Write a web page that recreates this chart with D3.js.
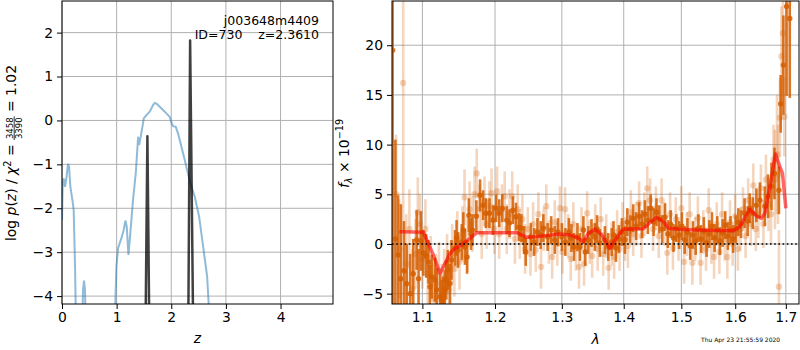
<!DOCTYPE html>
<html>
<head>
<meta charset="utf-8">
<script src="https://cdn.jsdelivr.net/npm/d3@7"></script>
<style>
body { margin: 0; background: #fff; }
svg text { font-family: "DejaVu Sans", sans-serif; }
</style>
</head>
<body>
<svg width="800" height="350"></svg>
<script>
// ---- p(z) panel data ----
const zTicks = [0, 1, 2, 3, 4];
const logpTicks = [-4, -3, -2, -1, 0, 1, 2];

// coarse grid log p(z), null = gap
const zGrid = [0, 0.013, 0.031, 0.055, 0.08, 0.11, 0.129, 0.153, 0.19, 0.214, 0.239, 0.26, null,
    0.365, 0.385, 0.403, 0.421, 0.44, null,
    0.955, 0.996, 1.026, 1.087, 1.13, 1.16, 1.185, 1.216, 1.24, 1.30, 1.35, 1.374, 1.393, 1.411,
    1.441, 1.472, 1.496, 1.545, 1.606, 1.667, 1.698, 1.728, 1.789, 1.881, 1.973, 2.009, 2.033,
    2.082, 2.125, 2.156, 2.186, 2.217, 2.247, 2.29, 2.351, 2.43, 2.51, 2.583, 2.656, 2.70, 2.74];
const logpGrid = [-2.27, -1.39, -1.32, -1.51, -1.32, -0.99, -1.05, -1.51, -1.81, -2.04, -3.33, -5, null,
    -5, -3.86, -3.65, -3.86, -5, null,
    -5, -3.33, -2.91, -2.68, -2.49, -2.28, -2.42, -3.06, -2.72, -1.81, -1.2, -0.75, -0.37, -0.56,
    -0.37, -0.145, 0.045, 0.12, 0.2, 0.35, 0.40, 0.385, 0.31, 0.2, 0.08, -0.07, -0.13,
    -0.145, -0.3, -0.45, -0.6, -0.75, -0.9, -1.13, -1.43, -1.74, -2.19, -2.87, -3.55, -4.5, -5];

// fine grid peaks
const zFine = [1.527, 1.563, 1.60, null, 2.31, 2.345, 2.403];
const logpFine = [-5, -0.36, -5, null, -5, 1.82, -5];

// ---- spectrum panel data ----
const waveTicks = [1.1, 1.2, 1.3, 1.4, 1.5, 1.6, 1.7];
const fluxTicks = [-5, 0, 5, 10, 15, 20];

const modelWave = [1.0702, 1.1014, 1.1058, 1.1146, 1.1236, 1.1303, 1.1371, 1.1439, 1.1531, 1.1646,
    1.1740, 1.1928, 1.2315, 1.2463, 1.2614, 1.2971, 1.3128, 1.3233, 1.3338, 1.3418, 1.3525,
    1.3634, 1.3771, 1.3853, 1.3992, 1.4332, 1.4446, 1.4562, 1.4679, 1.4767, 1.4974, 1.5276,
    1.5961, 1.6088, 1.6282, 1.6413, 1.6512, 1.6578, 1.6678, 1.6790, 1.6878, 1.6932, 1.7000];
const modelFlux = [1.24, 1.17, 0.40, -1.11, -2.95, -1.94, -0.94, -0.44, -0.10, 0.57,
    1.14, 1.14, 1.14, 0.67, 0.74, 1.0, 0.91, 0.67, 0.23, 1.07, 1.48,
    0.91, -0.44, 0.40, 1.48, 1.54, 2.15, 2.68, 2.25, 1.58, 1.48, 1.41,
    1.34, 1.74, 3.49, 2.82, 2.58, 3.09, 5.77, 9.06, 7.78, 7.11, 3.59];

// [wavelength, flux, error] strong spectrum
const specDark = [
    [1.0615, 19.5, 30], [1.065, 0.5, 10], [1.0685, -1.1, 6], [1.072, -3.5, 7.5], [1.076, -2.7, 5],
    [1.0795, -4.0, 4], [1.084, -5.0, 4], [1.088, -3.0, 3.5], [1.0925, 0.4, 3], [1.095, -3.5, 3],
    [1.098, 0.3, 3], [1.1013, -0.9, 2.3], [1.105, -1.2, 2.2], [1.108, -1.8, 2.2], [1.110, -4.3, 2.2],
    [1.1124, -3.3, 2.2], [1.1167, -3.6, 2.2], [1.119, -4.6, 2.2], [1.1236, -5.3, 2.2], [1.1257, -5.6, 2],
    [1.128, -5.3, 2], [1.130, -4.6, 2], [1.132, -3.6, 2], [1.134, -2.6, 2], [1.137, -4.0, 2],
    [1.139, -1.6, 2], [1.1439, -0.4, 1.8], [1.146, 0.6, 1.8], [1.148, -0.6, 1.8], [1.1531, 0.2, 1.8],
    [1.1553, 1.4, 1.8], [1.1575, -0.3, 1.8], [1.1605, -1.3, 1.7], [1.163, 2.9, 1.7], [1.166, 1.0, 1.6],
    [1.168, 1.4, 1.6], [1.1735, 2.8, 1.6], [1.1787, 4.9, 1.6], [1.183, 3.9, 1.5], [1.187, 3.1, 1.5],
    [1.192, 3.1, 1.5], [1.197, 2.4, 1.5], [1.2015, 3.6, 1.4], [1.206, 3.1, 1.4], [1.2105, 3.6, 1.4],
    [1.217, 2.4, 1.4], [1.221, 2.1, 1.4], [1.226, 3.4, 1.4], [1.2305, 2.75, 1.4], [1.235, 1.7, 1.4],
    [1.2385, 1.6, 1.4], [1.2425, 0.4, 1.4], [1.245, -0.8, 1.4], [1.2525, 0.7, 1.4], [1.2575, 0.2, 1.4],
    [1.2625, 1.2, 1.4], [1.2675, 0.9, 1.4], [1.2715, 1.6, 1.4], [1.278, 0.7, 1.4], [1.2835, 1.4, 1.4],
    [1.289, 0.4, 1.4], [1.294, 1.2, 1.4], [1.300, 0.7, 1.4], [1.3055, 0.2, 1.4], [1.311, 1.2, 1.4],
    [1.315, 0.6, 1.4], [1.319, -0.3, 1.4], [1.3245, 0.7, 1.4], [1.3285, -0.3, 1.4], [1.334, 1.4, 1.4],
    [1.337, -0.8, 1.4], [1.3418, 0.4, 1.4], [1.347, 1.1, 1.4], [1.3525, 0.7, 1.4], [1.356, 1.5, 1.4],
    [1.3606, 0.1, 1.4], [1.3688, 0.4, 1.4], [1.3743, -0.3, 1.4], [1.380, 0.2, 1.4], [1.383, 0.9, 1.4],
    [1.387, -0.4, 1.4], [1.392, 0.5, 1.4], [1.397, 1.2, 1.4], [1.402, 0.4, 1.4], [1.406, 2.2, 1.4],
    [1.411, 1.5, 1.4], [1.416, 2.6, 1.4], [1.421, 1.8, 1.4], [1.426, 2.8, 1.4], [1.431, 2.0, 1.4],
    [1.436, 3.0, 1.4], [1.441, 2.4, 1.4], [1.446, 3.6, 1.4], [1.451, 2.2, 1.4], [1.456, 3.2, 1.4],
    [1.461, 2.5, 1.4], [1.466, 1.5, 1.4], [1.471, 2.7, 1.4], [1.476, 1.0, 1.4], [1.481, 2.0, 1.4],
    [1.486, 0.6, 1.4], [1.491, 1.6, 1.4], [1.496, 0.9, 1.4], [1.501, 1.8, 1.4], [1.506, 0.4, 1.4],
    [1.511, 1.2, 1.4], [1.516, -0.2, 1.4], [1.521, 0.9, 1.4], [1.526, 0.3, 1.4], [1.531, 1.6, 1.4],
    [1.536, 0.5, 1.4], [1.541, 1.3, 1.4], [1.546, 0.1, 1.4], [1.551, 1.0, 1.4], [1.556, 1.8, 1.4],
    [1.561, 0.6, 1.4], [1.566, 1.4, 1.4], [1.571, 0.3, 1.4], [1.576, 1.1, 1.4], [1.581, 1.9, 1.4],
    [1.586, 0.8, 1.4], [1.591, 1.4, 1.4], [1.596, 0.5, 1.4], [1.601, 1.5, 1.4], [1.606, 2.2, 1.4],
    [1.611, 2.0, 1.4], [1.618, 3.1, 1.5], [1.624, 2.3, 1.5], [1.628, 3.6, 1.5], [1.634, 3.1, 1.6],
    [1.641, 3.9, 1.7], [1.648, 4.4, 1.8], [1.6578, 3.8, 2.0], [1.664, 4.8, 2.2], [1.671, 5.8, 2.4],
    [1.677, 7.1, 2.6], [1.686, 5.4, 2.4], [1.6895, 14.1, 2.9], [1.695, 18.0, 5], [1.7015, 23.9, 9],
    [1.708, 22.7, 8]
];

// [wavelength, flux, error] weak spectrum
const specLight = [
    [1.066, 5.0, 6], [1.070, -0.5, 5], [1.075, 16.2, 15], [1.079, -2.0, 5], [1.083, 1.5, 4],
    [1.087, -4.5, 4], [1.091, -1.0, 3.5], [1.094, 3.2, 3.5], [1.097, 2.0, 3], [1.100, -1.5, 3],
    [1.104, 1.5, 3], [1.107, -3.0, 3], [1.111, -2.2, 3], [1.115, -5.5, 3], [1.118, -4.0, 3],
    [1.122, -2.8, 3], [1.126, -5.0, 3], [1.129, -3.5, 3], [1.133, -2.0, 3], [1.136, -4.6, 3],
    [1.140, -1.0, 3], [1.143, -2.5, 2.8], [1.147, 0.5, 2.8], [1.150, -1.8, 2.8], [1.154, 1.0, 2.8],
    [1.157, 4.7, 2.8], [1.161, 0.0, 2.8], [1.164, 3.5, 2.8], [1.168, 2.0, 2.8], [1.171, 5.0, 2.8],
    [1.174, 7.1, 2.5], [1.178, 3.5, 2.5], [1.181, 1.0, 2.5], [1.185, 4.3, 2.5], [1.188, 2.0, 2.5],
    [1.192, 3.8, 2.5], [1.195, 5.1, 2.5], [1.199, 1.5, 2.5], [1.203, 5.3, 2.5], [1.206, 1.0, 2.5],
    [1.210, 3.5, 2.5], [1.214, 4.8, 2.5], [1.217, 1.5, 2.5], [1.221, 3.0, 2.5], [1.225, 4.8, 2.5],
    [1.229, 0.5, 2.5], [1.233, 3.5, 2.5], [1.236, 1.0, 2.5], [1.240, 2.5, 2.5], [1.244, -0.5, 2.5],
    [1.248, 1.5, 2.2], [1.252, -1.0, 2.2], [1.256, 2.0, 2.2], [1.260, -0.6, 2.2], [1.264, 3.0, 2.2],
    [1.268, -2.3, 2.2], [1.272, 1.5, 2.2], [1.276, 3.8, 2.2], [1.280, 0.2, 2.2], [1.285, -1.3, 2.2],
    [1.289, 2.2, 2.2], [1.293, 0.0, 2.2], [1.297, 3.6, 2.2], [1.301, -0.8, 2.2], [1.305, 3.5, 2.2],
    [1.310, 0.8, 2.2], [1.314, -1.5, 2.2], [1.318, 2.0, 2.2], [1.322, -0.5, 2.2], [1.327, -2.3, 2.2],
    [1.331, 1.5, 2.2], [1.335, -2.0, 2.2], [1.340, 3.1, 2.2], [1.344, 0.2, 2.2], [1.348, -1.2, 2.2],
    [1.353, 1.8, 2.2], [1.357, -0.5, 2.2], [1.362, 2.5, 2.2], [1.366, -1.0, 2.2], [1.371, 0.8, 2.2],
    [1.375, -2.4, 2.2], [1.380, 0.0, 2.2], [1.384, -1.3, 2.2], [1.389, 1.2, 2.2], [1.393, -0.5, 2.2],
    [1.398, 2.0, 2.2], [1.402, 0.5, 2.2], [1.407, -0.2, 2.2], [1.412, 3.2, 2.2], [1.416, 1.0, 2.2],
    [1.421, 2.0, 2.2], [1.426, 4.1, 2.2], [1.430, 0.8, 2.2], [1.435, 3.0, 2.2], [1.440, 5.6, 2.2],
    [1.445, 4.4, 2.2], [1.450, 1.5, 2.2], [1.455, 3.6, 2.2], [1.460, 0.8, 2.2], [1.465, 4.4, 2.2],
    [1.470, 2.0, 2.2], [1.475, -0.9, 2.2], [1.480, 3.0, 2.2], [1.485, -0.4, 2.2], [1.490, 2.5, 2.2],
    [1.495, 0.5, 2.2], [1.500, 3.6, 2.2], [1.505, -1.8, 2.2], [1.510, 1.0, 2.2], [1.515, 3.0, 2.2],
    [1.520, -1.9, 2.2], [1.525, 0.5, 2.2], [1.530, 2.6, 2.2], [1.535, -1.9, 2.2], [1.540, 1.2, 2.2],
    [1.545, -0.5, 2.2], [1.550, 3.4, 2.2], [1.555, 0.2, 2.2], [1.560, -1.3, 2.2], [1.565, 2.0, 2.2],
    [1.570, -0.8, 2.2], [1.575, 3.0, 2.2], [1.580, 0.5, 2.2], [1.585, -1.3, 2.2], [1.590, 2.2, 2.2],
    [1.595, 0.0, 2.2], [1.600, 2.8, 2.2], [1.605, -0.5, 2.2], [1.610, 1.5, 2.2], [1.615, 3.5, 2.2],
    [1.620, 0.8, 2.2], [1.625, 4.4, 2.2], [1.630, 2.0, 2.2], [1.635, 5.9, 2.2], [1.640, 1.5, 2.2],
    [1.645, 3.0, 2.4], [1.650, 5.6, 2.4], [1.655, 2.0, 2.4], [1.660, 6.5, 2.5], [1.665, 4.0, 2.7],
    [1.670, 3.0, 3], [1.675, 8.5, 3.5], [1.678, 6.5, 5], [1.682, 9.0, 6], [1.684, 7.0, 5],
    [1.686, -4.3, 5.7], [1.688, 12.7, 4], [1.691, 18.9, 5], [1.694, 21.2, 6], [1.697, 12.8, 4]
];

const gridColor = "#b0b0b0";
const orange = "#d55e00";

const svg = d3.select("svg");
const defs = svg.append("defs");

// ---------- left panel ----------
const L = {x0: 62, x1: 333, y0: 1, y1: 304};
const xz = d3.scaleLinear().domain([0, 4.96]).range([L.x0, L.x1]);
const yp = d3.scaleLinear().domain([-4.18, 2.72]).range([L.y1, L.y0]);

defs.append("clipPath").attr("id", "clipL").append("rect")
    .attr("x", L.x0).attr("y", L.y0).attr("width", L.x1 - L.x0).attr("height", L.y1 - L.y0);

const gl = svg.append("g");
gl.selectAll("line.gx").data(zTicks).enter().append("line")
    .attr("x1", d => xz(d)).attr("x2", d => xz(d))
    .attr("y1", L.y0).attr("y2", L.y1)
    .attr("stroke", gridColor).attr("stroke-width", 1);
gl.selectAll("line.gy").data(logpTicks).enter().append("line")
    .attr("y1", d => yp(d)).attr("y2", d => yp(d))
    .attr("x1", L.x0).attr("x2", L.x1)
    .attr("stroke", gridColor).attr("stroke-width", 1);

const zLine = d3.line()
    .defined(d => d[0] !== null)
    .x(d => xz(d[0])).y(d => yp(d[1]));

const plotL = gl.append("g").attr("clip-path", "url(#clipL)");
plotL.append("path")
    .datum(zGrid.map((z, i) => [z, logpGrid[i]]))
    .attr("d", zLine)
    .attr("fill", "none").attr("stroke", "#1f77b4").attr("stroke-opacity", 0.5)
    .attr("stroke-width", 2);
plotL.append("path")
    .datum(zFine.map((z, i) => [z, logpFine[i]]))
    .attr("d", zLine)
    .attr("fill", "none").attr("stroke", "#000").attr("stroke-opacity", 0.75)
    .attr("stroke-width", 2.5).attr("stroke-linejoin", "round");

gl.append("rect")
    .attr("x", L.x0).attr("y", L.y0).attr("width", L.x1 - L.x0).attr("height", L.y1 - L.y0)
    .attr("fill", "none").attr("stroke", "#000").attr("stroke-width", 1);

gl.append("g").attr("transform", `translate(0,${L.y1})`)
    .call(d3.axisBottom(xz).tickValues(zTicks).tickSize(5).tickPadding(3).tickFormat(d3.format("d")));
gl.append("g").attr("transform", `translate(${L.x0},0)`)
    .call(d3.axisLeft(yp).tickValues(logpTicks).tickSize(5).tickPadding(4).tickFormat(d3.format("d")));

// ---------- right panel ----------
const R = {x0: 392, x1: 799, y0: 1, y1: 304};
const xw = d3.scaleLog().domain([1.0607, 1.727]).range([R.x0, R.x1]);
const yf = d3.scaleLinear().domain([-6.04, 24.45]).range([R.y1, R.y0]);

defs.append("clipPath").attr("id", "clipR").append("rect")
    .attr("x", R.x0).attr("y", R.y0).attr("width", R.x1 - R.x0).attr("height", R.y1 - R.y0);

const gr = svg.append("g");
gr.selectAll("line.gx").data(waveTicks).enter().append("line")
    .attr("x1", d => xw(d)).attr("x2", d => xw(d))
    .attr("y1", R.y0).attr("y2", R.y1)
    .attr("stroke", gridColor).attr("stroke-width", 1);
gr.selectAll("line.gy").data(fluxTicks).enter().append("line")
    .attr("y1", d => yf(d)).attr("y2", d => yf(d))
    .attr("x1", R.x0).attr("x2", R.x1)
    .attr("stroke", gridColor).attr("stroke-width", 1);

const plotR = gr.append("g").attr("clip-path", "url(#clipR)");

function errbars(data, opacity, r, w) {
    const g = plotR.append("g");
    g.selectAll("line").data(data).enter().append("line")
        .attr("x1", d => xw(d[0])).attr("x2", d => xw(d[0]))
        .attr("y1", d => yf(d[1] - d[2])).attr("y2", d => yf(d[1] + d[2]))
        .attr("stroke", orange).attr("stroke-opacity", opacity).attr("stroke-width", w);
    g.selectAll("circle").data(data).enter().append("circle")
        .attr("cx", d => xw(d[0])).attr("cy", d => yf(d[1]))
        .attr("r", r)
        .attr("fill", orange).attr("fill-opacity", opacity);
}
errbars(specLight, 0.26, 3.2, 2.6);
errbars(specDark, 0.85, 2.7, 2.6);

plotR.append("path")
    .datum(modelWave.map((w, i) => [w, modelFlux[i]]))
    .attr("d", d3.line().x(d => xw(d[0])).y(d => yf(d[1])))
    .attr("fill", "none").attr("stroke", "red").attr("stroke-opacity", 0.6)
    .attr("stroke-width", 3.5).attr("stroke-linejoin", "round");

plotR.append("line")
    .attr("x1", R.x0).attr("x2", R.x1).attr("y1", yf(0)).attr("y2", yf(0))
    .attr("stroke", "#000").attr("stroke-width", 1.6).attr("stroke-dasharray", "1.6,2.6");

gr.append("rect")
    .attr("x", R.x0).attr("y", R.y0).attr("width", R.x1 - R.x0).attr("height", R.y1 - R.y0)
    .attr("fill", "none").attr("stroke", "#000").attr("stroke-width", 1);

gr.append("g").attr("transform", `translate(0,${R.y1})`)
    .call(d3.axisBottom(xw).tickValues(waveTicks).tickSize(5).tickPadding(3).tickFormat(d3.format(".1f")));
gr.append("g").attr("transform", `translate(${R.x0},0)`)
    .call(d3.axisLeft(yf).tickValues(fluxTicks).tickSize(5).tickPadding(4).tickFormat(d3.format("d")));

svg.selectAll(".domain").remove();
svg.selectAll(".tick line").attr("stroke", "#000");
svg.selectAll(".tick text")
    .attr("font-family", "DejaVu Sans, sans-serif")
    .attr("font-size", "13.9px").attr("fill", "#000");

// ---------- labels ----------
svg.append("text").attr("x", 319).attr("y", 25).attr("text-anchor", "end")
    .attr("font-size", "12.5px").text("j003648m4409");
svg.append("text").attr("x", 319).attr("y", 39).attr("text-anchor", "end")
    .attr("font-size", "12.5px").style("white-space", "pre").text("ID=730    z=2.3610");

svg.append("text").attr("x", (L.x0 + L.x1) / 2).attr("y", 343).attr("text-anchor", "middle")
    .attr("font-size", "13.9px").attr("font-style", "italic").text("z");
svg.append("text").attr("x", (R.x0 + R.x1) / 2).attr("y", 344).attr("text-anchor", "middle")
    .attr("font-size", "13.9px").attr("font-style", "italic").text("λ");

svg.append("text").attr("x", 701).attr("y", 341.5)
    .attr("font-size", "6px").text("Thu Apr 23 21:55:59 2020");

// left y label with a stacked fraction
const ylabOuter = svg.append("g").attr("transform", "translate(16,153) rotate(-90)");
const ylab = ylabOuter.append("g");
let cx = 0;
function piece(txt, style, size, dy) {
    const t = ylab.append("text").attr("x", cx).attr("y", dy || 0)
        .attr("font-size", (size || 13.9) + "px")
        .attr("font-style", style || "normal")
        .style("white-space", "pre").text(txt);
    const w = t.node().getComputedTextLength();
    cx += w;
    return w;
}
piece("log ");
piece("p", "italic");
piece("(");
piece("z", "italic");
piece(") / ");
piece("χ", "italic");
piece("2", "normal", 9.7, -5.5);
piece(" = ");
{
    const start = cx;
    const num = ylab.append("text").attr("x", start).attr("y", -3.5)
        .attr("font-size", "8.5px").text("3458");
    const den = ylab.append("text").attr("x", start).attr("y", 5.5)
        .attr("font-size", "8.5px").text("3390");
    const w = Math.max(num.node().getComputedTextLength(), den.node().getComputedTextLength()) + 2;
    num.attr("x", start + 1); den.attr("x", start + 1);
    ylab.append("line").attr("x1", start).attr("x2", start + w)
        .attr("y1", -1.8).attr("y2", -1.8).attr("stroke", "#000").attr("stroke-width", 0.8);
    cx += w;
}
piece(" = 1.02");
ylab.attr("transform", `translate(${-cx / 2},0)`);

// right y label
const yr = svg.append("text")
    .attr("transform", "translate(348.5,153.5) rotate(-90)")
    .attr("text-anchor", "middle").attr("font-size", "13.9px");
yr.append("tspan").attr("font-style", "italic").text("f");
yr.append("tspan").attr("font-size", "9.7px").attr("font-style", "italic").attr("dy", 3).text("λ");
yr.append("tspan").attr("dy", -3).style("white-space", "pre").text(" × 10");
yr.append("tspan").attr("font-size", "9.7px").attr("dy", -5.5).text("−19");
</script>
</body>
</html>
